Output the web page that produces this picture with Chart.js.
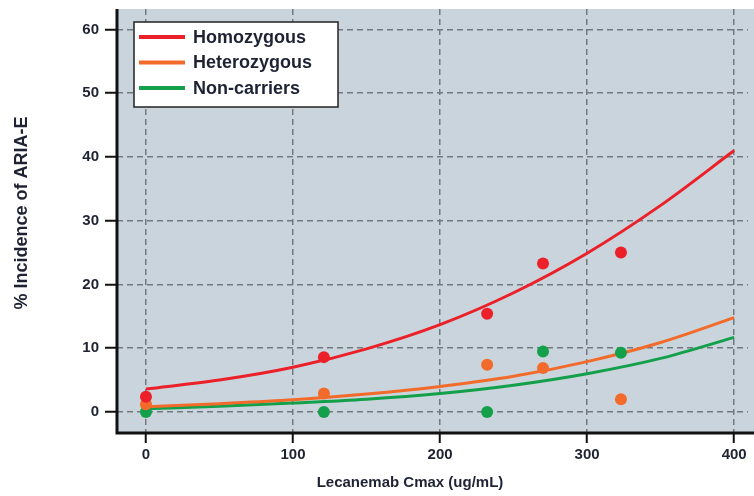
<!DOCTYPE html>
<html>
<head>
<meta charset="utf-8">
<script src="https://cdn.jsdelivr.net/npm/chart.js@4.4.0/dist/chart.umd.min.js"></script>
<style>
  html, body { margin: 0; padding: 0; background: #fff; }
  #wrap { width: 754px; height: 496px; }
</style>
</head>
<body>
<div id="wrap"><canvas id="chart" width="754" height="496"></canvas></div>
<script>
// curves (fitted lines)
const curveX       = [0, 50, 100, 150, 200, 250, 300, 350, 400];
const homoCurve    = [3.6, 5.0, 7.0, 9.9, 13.7, 18.7, 24.9, 32.4, 41.0];
const heteroCurve  = [0.8, 1.3, 1.9, 2.8, 4.0, 5.6, 7.9, 10.9, 14.8];
const nonCurve     = [0.5, 0.9, 1.4, 2.0, 2.9, 4.2, 6.0, 8.4, 11.7];

// observed points
const obsX         = [0, 121, 232, 270, 323];
const homoObs      = [2.4, 8.6, 15.4, 23.3, 25.0];
const heteroObs    = [1.2, 2.9, 7.4, 6.9, 2.0];
const nonObs       = [0.0, 0.0, 0.0, 9.5, 9.3];

const xTicks = [0, 100, 200, 300, 400];
const yTicks = [0, 10, 20, 30, 40, 50, 60];

const seriesNames  = ['Homozygous', 'Heterozygous', 'Non-carriers'];
const seriesColors = ['#ec2028', '#f26b2a', '#14a04a'];

const pts = (xs, ys) => xs.map((x, i) => ({ x, y: ys[i] }));

const lineDs = (data, color) => ({
  type: 'line', data, borderColor: color, borderWidth: 3,
  pointRadius: 0, cubicInterpolationMode: 'monotone', fill: false, order: 2
});
const dotDs = (data, color) => ({
  type: 'scatter', data, backgroundColor: color, borderColor: color,
  pointRadius: 6, pointHoverRadius: 6, borderWidth: 0, order: 1
});

const FAMILY = 'Arial, "Liberation Sans", Helvetica, sans-serif';
const TEXT_COLOR = '#1e2233';

const decor = {
  id: 'decor',
  beforeDraw(chart) {
    const { ctx, chartArea: a } = chart;
    ctx.save();
    ctx.fillStyle = '#cad4dc';
    ctx.fillRect(a.left, a.top, chart.width - a.left, a.bottom - a.top);
    ctx.restore();
  },
  afterDraw(chart) {
    const { ctx, chartArea: a } = chart;
    ctx.save();
    // axis lines
    ctx.strokeStyle = '#111';
    ctx.lineWidth = 3;
    ctx.beginPath();
    ctx.moveTo(a.left, a.top);
    ctx.lineTo(a.left, a.bottom);
    ctx.lineTo(chart.width, a.bottom);
    ctx.stroke();

    // titles
    ctx.fillStyle = TEXT_COLOR;
    ctx.font = 'bold 15px ' + FAMILY;
    ctx.textAlign = 'center';
    ctx.textBaseline = 'middle';
    ctx.fillText('Lecanemab Cmax (ug/mL)', 410, 483);
    ctx.translate(22, 213);
    ctx.rotate(-Math.PI / 2);
    ctx.font = 'bold 18px ' + FAMILY;
    ctx.fillText('% Incidence of ARIA-E', 0, 0);
    ctx.restore();

    // legend
    ctx.save();
    const lx = 134, ly = 22, lw = 204, lh = 85;
    ctx.fillStyle = '#fff';
    ctx.fillRect(lx, ly, lw, lh);
    ctx.strokeStyle = '#222';
    ctx.lineWidth = 1.5;
    ctx.strokeRect(lx, ly, lw, lh);
    ctx.font = 'bold 18px ' + FAMILY;
    ctx.textAlign = 'left';
    ctx.textBaseline = 'middle';
    seriesNames.forEach((name, i) => {
      const y = 37 + i * 25.5;
      ctx.strokeStyle = seriesColors[i];
      ctx.lineWidth = 4;
      ctx.beginPath();
      ctx.moveTo(139, y);
      ctx.lineTo(185, y);
      ctx.stroke();
      ctx.fillStyle = TEXT_COLOR;
      ctx.fillText(name, 193, y + 1);
    });
    ctx.restore();
  }
};

new Chart(document.getElementById('chart'), {
  data: {
    datasets: [
      lineDs(pts(curveX, homoCurve), seriesColors[0]),
      lineDs(pts(curveX, heteroCurve), seriesColors[1]),
      lineDs(pts(curveX, nonCurve), seriesColors[2]),
      dotDs(pts(obsX, homoObs), seriesColors[0]),
      dotDs(pts(obsX, heteroObs), seriesColors[1]),
      dotDs(pts(obsX, nonObs), seriesColors[2])
    ]
  },
  options: {
    responsive: false,
    animation: false,
    layout: { padding: { top: 9, right: 0, left: 0, bottom: 0 } },
    plugins: { legend: { display: false }, tooltip: { enabled: false } },
    scales: {
      x: {
        type: 'linear', min: -19.7, max: 409.4,
        afterBuildTicks: s => { s.ticks = xTicks.map(v => ({ value: v })); },
        afterFit: s => { s.height = 63; s.paddingLeft = 0; s.paddingRight = 0; },
        grid: {
          color: '#727880', lineWidth: 1.5, drawTicks: true,
          tickLength: 10, tickColor: '#111', tickWidth: 2
        },
        border: { display: false, dash: [6, 4] },
        ticks: { color: TEXT_COLOR, font: { family: FAMILY, size: 15, weight: 'bold' }, padding: 3 }
      },
      y: {
        type: 'linear', min: -3.3, max: 63.2,
        afterBuildTicks: s => { s.ticks = yTicks.map(v => ({ value: v })); },
        afterFit: s => { s.width = 117; s.paddingTop = 0; s.paddingBottom = 0; },
        grid: {
          color: '#727880', lineWidth: 1.5, drawTicks: true,
          tickLength: 12, tickColor: '#111', tickWidth: 2
        },
        border: { display: false, dash: [6, 4] },
        ticks: { color: TEXT_COLOR, font: { family: FAMILY, size: 15, weight: 'bold' }, padding: 6 }
      }
    }
  },
  plugins: [decor]
});
</script>
</body>
</html>
